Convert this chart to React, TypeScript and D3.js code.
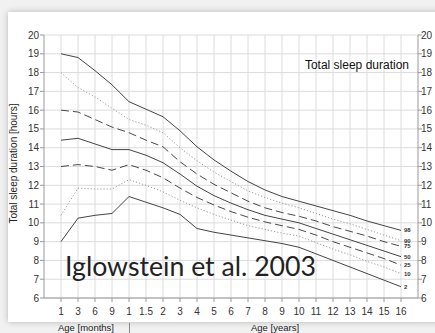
import * as d3 from 'd3'

const ageLabels = ['1', '3', '6', '9', '1', '1.5', '2', '3', '4', '5', '6', '7', '8', '9', '10', '11', '12', '13', '14', '15', '16']
const hourTicks = [6, 7, 8, 9, 10, 11, 12, 13, 14, 15, 16, 17, 18, 19, 20]

const p98 = [19.0, 18.8, 18.1, 17.35, 16.45, 16.05, 15.65, 14.9, 14.05, 13.35, 12.75, 12.2, 11.75, 11.4, 11.15, 10.9, 10.65, 10.4, 10.1, 9.85, 9.6]
const p90 = [18.0, 17.2, 16.7, 16.1, 15.5, 15.2, 14.8, 14.0, 13.3, 12.7, 12.2, 11.7, 11.35, 11.05, 10.8, 10.5, 10.2, 9.95, 9.65, 9.35, 9.05]
const p75 = [16.0, 15.9, 15.5, 15.1, 14.8, 14.4, 14.05, 13.25, 12.6, 12.05, 11.6, 11.15, 10.8, 10.55, 10.35, 10.1, 9.8, 9.55, 9.3, 9.0, 8.75]
const p50 = [14.4, 14.5, 14.2, 13.9, 13.9, 13.6, 13.2, 12.6, 11.95, 11.45, 11.05, 10.7, 10.4, 10.2, 10.0, 9.7, 9.4, 9.1, 8.8, 8.5, 8.2]
const p25 = [13.0, 13.1, 13.0, 12.8, 13.1, 12.8, 12.4, 11.85, 11.35, 10.95, 10.6, 10.3, 10.05, 9.85, 9.65, 9.35, 9.0, 8.7, 8.4, 8.1, 7.75]
const p10 = [10.4, 11.85, 11.8, 11.8, 12.3, 12.0, 11.65, 11.2, 10.8, 10.45, 10.15, 9.85, 9.65, 9.45, 9.3, 8.95, 8.6, 8.3, 7.95, 7.65, 7.3]
const p2 = [9.0, 10.25, 10.4, 10.5, 11.4, 11.1, 10.8, 10.45, 9.7, 9.5, 9.35, 9.2, 9.05, 8.9, 8.7, 8.35, 8.0, 7.65, 7.3, 6.95, 6.6]

const series = [
  { name: '98', values: p98, style: 'solid' },
  { name: '90', values: p90, style: 'dot' },
  { name: '75', values: p75, style: 'dash' },
  { name: '50', values: p50, style: 'solid' },
  { name: '25', values: p25, style: 'dash' },
  { name: '10', values: p10, style: 'dot' },
  { name: '2', values: p2, style: 'solid' },
]

const W = 435
const H = 333
const plot = { left: 44, right: 418, top: 35, bottom: 298 }
const font = '"Liberation Sans", Arial, sans-serif'

export default function App() {
  const idx = ageLabels.map((_, i) => i)
  const x = d3.scalePoint<number>().domain(idx).range([plot.left, plot.right]).padding(1)
  const y = d3.scaleLinear().domain([6, 20]).range([plot.bottom, plot.top])

  const line = d3.line<number>()
    .x((_, i) => x(i) as number)
    .y(d => y(d))

  const strokeFor = (s: string) => {
    if (s === 'dot') return { stroke: '#9a9a9a', dash: '1.2,2' }
    if (s === 'dash') return { stroke: '#4a4a4a', dash: '8,4' }
    return { stroke: '#444', dash: undefined }
  }

  // month/year divider sits under the first "1" (year) tick
  const sepX = (x(4) as number) + 0.5

  return (
    <div style={{ position: 'fixed', left: 0, top: 0, width: W, height: H }}>
      <svg width={W} height={H} style={{ display: 'block', fontFamily: font }}>
        <defs>
          <filter id="shadow" x="-5%" y="-5%" width="110%" height="110%">
            <feGaussianBlur in="SourceAlpha" stdDeviation="3" />
            <feOffset dx="0" dy="0" result="b" />
            <feComponentTransfer><feFuncA type="linear" slope="0.25" /></feComponentTransfer>
            <feMerge><feMergeNode /><feMergeNode in="SourceGraphic" /></feMerge>
          </filter>
        </defs>
        <rect x={0} y={0} width={W} height={H} fill="#f1f1f1" />
        <rect x={8} y={12} width={W} height={310} fill="#fff" filter="url(#shadow)" />

        {/* grid */}
        {hourTicks.map(h => (
          <line key={'h' + h} x1={plot.left} x2={plot.right} y1={y(h)} y2={y(h)} stroke="#dcdcdc" strokeWidth={1} />
        ))}
        {idx.map(i => (
          <line key={'v' + i} x1={x(i)} x2={x(i)} y1={plot.top} y2={plot.bottom} stroke="#dcdcdc" strokeWidth={1} />
        ))}

        {/* axes */}
        <line x1={plot.left} x2={plot.left} y1={plot.top} y2={plot.bottom} stroke="#999" />
        <line x1={plot.right} x2={plot.right} y1={plot.top} y2={plot.bottom} stroke="#999" />
        <line x1={plot.left} x2={plot.right} y1={plot.bottom} y2={plot.bottom} stroke="#999" />
        {hourTicks.map(h => (
          <g key={'t' + h}>
            <line x1={plot.left - 4} x2={plot.left} y1={y(h)} y2={y(h)} stroke="#999" />
            <line x1={plot.right} x2={plot.right + 4} y1={y(h)} y2={y(h)} stroke="#999" />
            <text x={plot.left - 5} y={y(h) + 3.5} textAnchor="end" fontSize={10} fill="#333">{h}</text>
            <text x={plot.right + 3} y={y(h) + 3.5} fontSize={10} fill="#333">{h}</text>
          </g>
        ))}
        {idx.map(i => (
          <g key={'xt' + i}>
            <line x1={x(i)} x2={x(i)} y1={plot.bottom} y2={plot.bottom + 4} stroke="#999" />
            <text x={x(i)} y={plot.bottom + 17} textAnchor="middle" fontSize={10} fill="#333">{ageLabels[i]}</text>
          </g>
        ))}

        {/* percentile curves */}
        {series.map(s => {
          const st = strokeFor(s.style)
          return (
            <path key={s.name} d={line(s.values) || ''} fill="none" stroke={st.stroke}
              strokeWidth={1} strokeDasharray={st.dash} />
          )
        })}
        {series.map(s => {
          const last = s.values.length - 1
          return (
            <text key={'l' + s.name} x={(x(last) as number) + 3} y={y(s.values[last]) + 2}
              fontSize={6} fontWeight="bold" fill="#333">{s.name}</text>
          )
        })}

        {/* titles */}
        <text x={409} y={69} textAnchor="end" fontSize={12} fill="#111">Total sleep duration</text>
        <text transform={`translate(17,${(plot.top + plot.bottom) / 2 - 3}) rotate(-90)`} textAnchor="middle"
          fontSize={10} fill="#222">Total sleep duration [hours]</text>
        <text x={65} y={276} fontSize={27} fill="#222" textLength={251} lengthAdjust="spacingAndGlyphs"
          style={{ fontFamily: 'Lato, "Open Sans", sans-serif' }}>Iglowstein et al. 2003</text>

        <text x={58} y={331} fontSize={9.5} fill="#222">Age [months]</text>
        <line x1={sepX} x2={sepX} y1={323} y2={333} stroke="#888" />
        <text x={275} y={331} textAnchor="middle" fontSize={9.5} fill="#222">Age [years]</text>
      </svg>
    </div>
  )
}
